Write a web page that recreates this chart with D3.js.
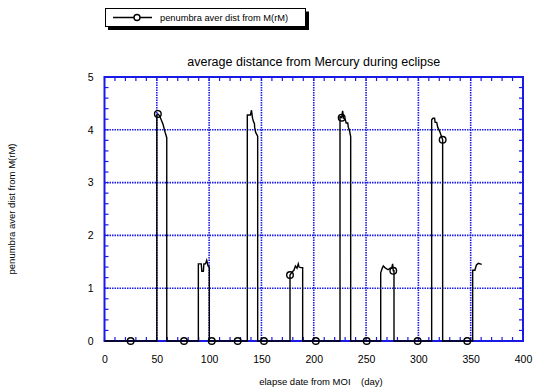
<!DOCTYPE html>
<html><head><meta charset="utf-8">
<script src="https://cdn.jsdelivr.net/npm/d3@7"></script>
<style>body{margin:0;background:#fff}svg{display:block}text{font-family:"Liberation Sans",Arial,sans-serif;fill:#000}</style>
</head><body>
<svg id="c" width="539" height="390"></svg>
<script>
const title = "average distance from Mercury during eclipse";
const seriesName = "penumbra aver dist from M(rM)";
const xTitle = "elapse date from MOI\u00a0\u00a0\u00a0\u00a0(day)";
const yTitle = "penumbra aver dist from M(rM)";
const xTicks = [0,50,100,150,200,250,300,350,400];
const yTicks = [0,1,2,3,4,5];
// line data: elapsed day and distance
const days = [0,25,50,
  50,51,52.5,54,56,58,59.5,59.5,
  76,89.7,
  89.7,92.5,93,94.5,95,96.5,97.7,99,100.2,100.2,
  102.5,127.3,136.5,
  136.5,139.5,140.5,141.5,142.5,143.3,143.5,144.5,146.4,146.4,
  152.4,177.3,
  177.3,179,181,182.5,184,185.2,186,187.5,189.4,189.4,
  202,225.1,
  225.1,226.7,227.6,228.5,230,231,232.5,233,234,235.3,235.3,
  250.6,264,
  264,265.5,266.5,268,271,273,274.5,275.4,276,276.7,276.7,
  299.3,312.7,
  312.7,314,315.5,316,317.5,318.5,320.6,323.2,323.2,
  346.7,351.9,
  351.9,354,355.5,357.3,360.5];
const dist = [0,0,0,
  4.28,4.30,4.27,4.2,4.1,3.95,3.85,0,
  0,0,
  1.46,1.46,1.32,1.32,1.46,1.46,1.53,1.42,1.40,0,
  0,0,0,
  4.28,4.28,4.37,4.22,4.15,4.12,4.05,3.95,3.88,0,
  0,0,
  1.25,1.30,1.34,1.42,1.38,1.46,1.40,1.39,1.39,0,
  0,0,
  4.25,4.23,4.36,4.22,4.20,4.13,4.13,4.05,4.0,3.87,0,
  0,0,
  1.29,1.38,1.42,1.39,1.35,1.38,1.38,1.46,1.33,1.33,0,
  0,0,
  4.19,4.22,4.22,4.14,4.14,4.05,3.96,3.81,0,
  0,0,
  1.34,1.34,1.44,1.47,1.45];
const markDays = [25,51,76,102.5,127.3,152.4,177.3,202,226.7,250.6,276,299.3,323.2,346.7];
const markDist = [0,4.30,0,0,0,0,1.25,0,4.23,0,1.33,0,3.81,0];

const svg = d3.select("#c");
const L=104.5,R=523,T=77,B=341;
const x = d3.scaleLinear().domain([0,400]).range([L,R]);
const y = d3.scaleLinear().domain([0,5]).range([B,T]);
const blue="#1a1ae6";

// grid
const g = svg.append("g");
g.selectAll("line.gx").data(xTicks.slice(1,-1)).join("line")
 .attr("x1",d=>x(d)).attr("x2",d=>x(d)).attr("y1",T).attr("y2",B)
 .attr("stroke",blue).attr("stroke-width",1.6).attr("stroke-dasharray","1.5,1");
g.selectAll("line.gy").data(yTicks.slice(1,-1)).join("line")
 .attr("y1",d=>y(d)).attr("y2",d=>y(d)).attr("x1",L).attr("x2",R)
 .attr("stroke",blue).attr("stroke-width",1.6).attr("stroke-dasharray","1.5,1");

// minor ticks inward on all sides
const mx = d3.range(0,401,10), my = d3.range(0,5.01,0.2);
const tk = svg.append("g").attr("stroke",blue).attr("stroke-width",1.2);
mx.forEach(v=>{
  tk.append("line").attr("x1",x(v)).attr("x2",x(v)).attr("y1",B).attr("y2",B-4);
  tk.append("line").attr("x1",x(v)).attr("x2",x(v)).attr("y1",T).attr("y2",T+4);
});
my.forEach(v=>{
  tk.append("line").attr("y1",y(v)).attr("y2",y(v)).attr("x1",L).attr("x2",L+4);
  tk.append("line").attr("y1",y(v)).attr("y2",y(v)).attr("x1",R).attr("x2",R-4);
});
svg.append("rect").attr("x",L).attr("y",T).attr("width",R-L).attr("height",B-T)
 .attr("fill","none").attr("stroke",blue).attr("stroke-width",2);

// axes labels via d3 axes (lines hidden)
const ax = svg.append("g").attr("transform",`translate(0,${B})`)
 .call(d3.axisBottom(x).tickValues(xTicks).tickSize(0).tickPadding(15).tickFormat(d3.format("d")));
ax.select(".domain").remove();
ax.selectAll("text").attr("font-size",10.5).attr("font-family","Liberation Sans, Arial, sans-serif").attr("fill","#000");
const ay = svg.append("g").attr("transform",`translate(${L},0)`)
 .call(d3.axisLeft(y).tickValues(yTicks).tickSize(0).tickPadding(11).tickFormat(d3.format("d")));
ay.select(".domain").remove();
ay.selectAll("text").attr("font-size",10.5).attr("font-family","Liberation Sans, Arial, sans-serif").attr("fill","#000");

// data line
const pts = days.map((d,i)=>[d,dist[i]]);
svg.append("path").datum(pts)
 .attr("d",d3.line().x(d=>x(d[0])).y(d=>y(d[1])))
 .attr("fill","none").attr("stroke","#000").attr("stroke-width",1.4);
svg.selectAll("circle.m").data(markDays.map((d,i)=>[d,markDist[i]])).join("circle")
 .attr("cx",d=>x(d[0])).attr("cy",d=>y(d[1])).attr("r",3.3)
 .attr("fill","none").attr("stroke","#000").attr("stroke-width",1.4);

// title
svg.append("text").attr("x",(L+R)/2).attr("y",66).attr("text-anchor","middle")
 .attr("font-size",12.5).text(title);
svg.append("text").attr("x",321).attr("y",385).attr("text-anchor","middle")
 .attr("font-size",9.5).text(xTitle);
svg.append("text").attr("transform",`translate(15,${(T+B)/2}) rotate(-90)`)
 .attr("text-anchor","middle").attr("font-size",9.5).text(yTitle);

// legend
svg.append("rect").attr("x",108).attr("y",11.5).attr("width",201).attr("height",18.5).attr("fill","#000");
svg.append("rect").attr("x",105.5).attr("y",8.5).attr("width",200).attr("height",18)
 .attr("fill","#fff").attr("stroke","#000").attr("stroke-width",1);
svg.append("line").attr("x1",113).attr("x2",152).attr("y1",17.5).attr("y2",17.5)
 .attr("stroke","#000").attr("stroke-width",1.4);
svg.append("circle").attr("cx",137).attr("cy",17.5).attr("r",3)
 .attr("fill","#fff").attr("stroke","#000").attr("stroke-width",1.4);
svg.append("text").attr("x",160).attr("y",21).attr("font-size",9.3).text(seriesName);
</script>
</body></html>
